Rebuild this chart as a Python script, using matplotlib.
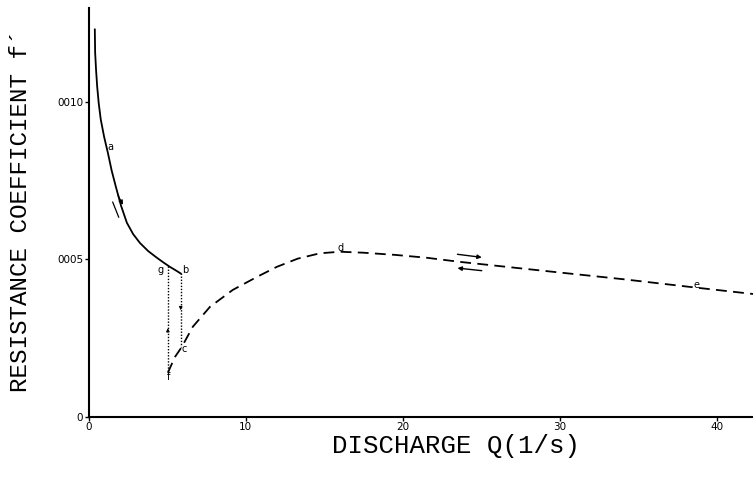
import matplotlib
matplotlib.use("Agg")
from matplotlib import pyplot as plt

# curve a (solid), discharge in l/s, resistance coefficient
q_a = [0.38, 0.40, 0.46, 0.53, 0.63, 0.76, 0.97, 1.21, 1.45, 1.72, 2.05, 2.42, 2.82, 3.25, 3.78, 4.33, 4.75, 5.16, 5.50, 5.85]
f_a = [0.01229, 0.01156, 0.01100, 0.01048, 0.00994, 0.00943, 0.00889, 0.00838, 0.00782, 0.00730, 0.00670,
       0.00616, 0.00580, 0.00552, 0.00526, 0.00505, 0.00490, 0.00476, 0.00466, 0.00455]

# curve f-c-d-e (dashed)
q_d = [5.03, 5.48, 5.92, 6.62, 7.71, 9.17, 10.70, 11.97, 13.3, 14.71, 15.99, 17.45, 19.5, 21.5, 23.6,
       26.8, 30.0, 34.0, 38.7, 42.3]
f_d = [0.00140, 0.00190, 0.00222, 0.00286, 0.00349, 0.00403, 0.00444, 0.00476, 0.00502, 0.00519, 0.00524,
       0.00521, 0.00514, 0.00505, 0.00492, 0.00475, 0.00458, 0.00437, 0.00410, 0.00390]

# jumps g -> f and b -> c (dotted)
q_g, f_g_top, f_f = 5.03, 0.00478, 0.00135
q_b, f_b_top, f_c = 5.85, 0.00455, 0.00222

point_labels = ['a', 'b', 'c', 'd', 'e', 'f', 'g']
label_q = [1.35, 6.15, 6.05, 16.05, 38.7, 5.1, 4.55]
label_f = [0.00857, 0.00465, 0.00215, 0.00537, 0.00417, 0.00128, 0.00465]

x_ticks = [0, 10, 20, 30, 40]
y_ticks = [0, 0.005, 0.010]
y_ticklabels = ['0', '0005', '0010']

fig = plt.figure(figsize=(7.53, 4.82), dpi=100)
ax = fig.add_axes([0.118, 0.135, 0.882, 0.849])

ax.plot(q_a, f_a, color='black', lw=1.3)
ax.plot(q_d, f_d, color='black', lw=1.3, dashes=(6, 3.5))
ax.plot([q_g, q_g], [f_g_top, f_f], color='black', lw=1.0, ls=(0, (1, 1.2)))
ax.plot([q_b, q_b], [f_b_top, f_c], color='black', lw=1.0, ls=(0, (1, 1.2)))

# small arrows on the jumps
ax.annotate('', xy=(q_g, 0.00290), xytext=(q_g, 0.00260),
            arrowprops=dict(arrowstyle='-|>', color='black', lw=0.6, mutation_scale=5))
ax.annotate('', xy=(q_b, 0.00330), xytext=(q_b, 0.00360),
            arrowprops=dict(arrowstyle='-|>', color='black', lw=0.6, mutation_scale=5))

# direction arrows along curve a
ax.annotate('', xy=(2.25, 0.00665), xytext=(1.78, 0.00710),
            arrowprops=dict(arrowstyle='-|>', color='black', lw=0.9, mutation_scale=6))
ax.annotate('', xy=(1.45, 0.00690), xytext=(1.97, 0.00625),
            arrowprops=dict(arrowstyle='-', color='black', lw=0.9))

# direction arrows along curve d-e
ax.annotate('', xy=(25.2, 0.00505), xytext=(23.3, 0.00517),
            arrowprops=dict(arrowstyle='-|>', color='black', lw=1.0, mutation_scale=6))
ax.annotate('', xy=(23.3, 0.00473), xytext=(25.2, 0.00463),
            arrowprops=dict(arrowstyle='-|>', color='black', lw=1.0, mutation_scale=6))

for t, xq, yf in zip(point_labels, label_q, label_f):
    ax.text(xq, yf, t, fontsize=7, ha='center', va='center')

ax.set_xlim(0, 42.3)
ax.set_ylim(0, 0.01298)
ax.set_xticks(x_ticks)
ax.set_xticklabels([str(v) for v in x_ticks], fontsize=7.5)
ax.set_yticks(y_ticks)
ax.set_yticklabels(y_ticklabels, fontsize=7.5)
ax.tick_params(length=3, width=1, pad=1)

for side in ['top', 'right']:
    ax.spines[side].set_visible(False)
for side in ['left', 'bottom']:
    ax.spines[side].set_linewidth(1.5)

fig.text(0.606, 0.074, 'DISCHARGE Q(1/s)', family='Liberation Mono', fontsize=18.5,
         ha='center', va='center')
fig.text(0.027, 0.562, 'RESISTANCE COEFFICIENT f´', family='Liberation Mono', fontsize=17.5,
         ha='center', va='center', rotation=90)

fig.savefig('out.png', dpi=100)
